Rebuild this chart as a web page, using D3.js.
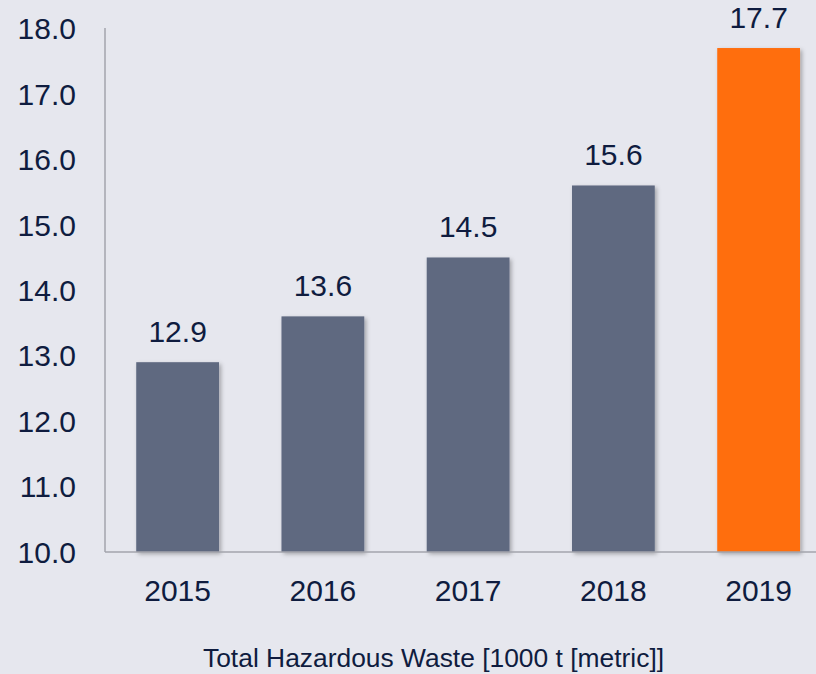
<!DOCTYPE html>
<html>
<head>
<meta charset="utf-8">
<script src="https://cdn.jsdelivr.net/npm/d3@7"></script>
<style>
  html, body { margin: 0; padding: 0; background: #e6e7ee; }
  svg { display: block; font-family: 'Liberation Sans', Arial, sans-serif; }
</style>
</head>
<body>
<div id="chart"></div>
<script>
// data
var years = ['2015', '2016', '2017', '2018', '2019']
var values = [12.9, 13.6, 14.5, 15.6, 17.7]
var yTicks = [10, 11, 12, 13, 14, 15, 16, 17, 18]
var title = 'Total Hazardous Waste [1000 t [metric]]'

var width = 816
var height = 674
var textColor = '#0f1c3f'

var svg = d3.select('#chart').append('svg')
    .attr('width', width)
    .attr('height', height)

// drop shadow on the bars
var defs = svg.append('defs')
defs.append('filter')
    .attr('id', 'shadow')
    .attr('x', '-10%').attr('y', '-10%')
    .attr('width', '130%').attr('height', '130%')
  .append('feDropShadow')
    .attr('dx', 2).attr('dy', 2)
    .attr('stdDeviation', 2)
    .attr('flood-color', '#000')
    .attr('flood-opacity', 0.3)

var left = 105, bottom = 552
var x = d3.scaleBand()
    .domain(years)
    .range([left, left + 5 * 145.25])
    .paddingInner(0.43)
    .paddingOuter(0.215)

var y = d3.scaleLinear()
    .domain([10, 18])
    .range([bottom, 28.4])

// y axis labels (no ticks)
svg.selectAll('.ylab')
    .data(yTicks)
    .enter().append('text')
    .attr('class', 'ylab')
    .attr('x', 76)
    .attr('y', function (d) { return y(d) })
    .attr('dy', '0.36em')
    .attr('text-anchor', 'end')
    .attr('fill', textColor)
    .style('font-size', '30px')
    .text(function (d) { return d3.format('.1f')(d) })

// bars
svg.selectAll('.bar')
    .data(values)
    .enter().append('rect')
    .attr('class', 'bar')
    .attr('x', function (d, i) { return x(years[i]) })
    .attr('y', function (d) { return y(d) })
    .attr('width', x.bandwidth())
    .attr('height', function (d) { return bottom - y(d) })
    .attr('fill', function (d, i) { return i === years.length - 1 ? '#ff6e0c' : '#5f6980' })
    .attr('filter', 'url(#shadow)')

// axis lines
svg.append('line')
    .attr('x1', left).attr('x2', left)
    .attr('y1', 28).attr('y2', bottom)
    .attr('stroke', '#a3a5ad').attr('stroke-width', 1.5)
svg.append('line')
    .attr('x1', left).attr('x2', width)
    .attr('y1', bottom).attr('y2', bottom)
    .attr('stroke', '#a3a5ad').attr('stroke-width', 1.5)

// value labels
svg.selectAll('.vlab')
    .data(values)
    .enter().append('text')
    .attr('class', 'vlab')
    .attr('x', function (d, i) { return x(years[i]) + x.bandwidth() / 2 })
    .attr('y', function (d) { return y(d) - 20 })
    .attr('text-anchor', 'middle')
    .attr('fill', textColor)
    .style('font-size', '30px')
    .text(function (d) { return d3.format('.1f')(d) })

// category labels
svg.selectAll('.xlab')
    .data(years)
    .enter().append('text')
    .attr('class', 'xlab')
    .attr('x', function (d) { return x(d) + x.bandwidth() / 2 })
    .attr('y', 601)
    .attr('text-anchor', 'middle')
    .attr('fill', textColor)
    .style('font-size', '30px')
    .text(function (d) { return d })

// title under the chart
svg.append('text')
    .attr('x', 203)
    .attr('y', 667)
    .attr('fill', textColor)
    .style('font-size', '26.4px')
    .text(title)
</script>
</body>
</html>
